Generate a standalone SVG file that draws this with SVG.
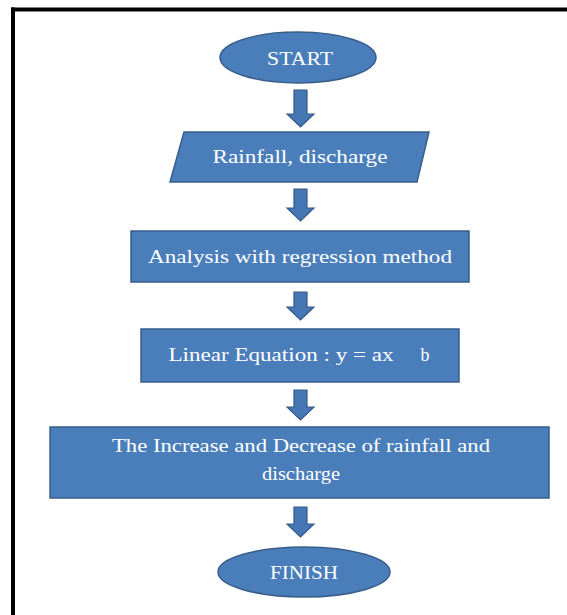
<svg xmlns="http://www.w3.org/2000/svg" width="567" height="615" viewBox="0 0 567 615">
<style>
.shape{fill:#4a7ebb;stroke:#385d8a;stroke-width:1.5}
.arrow{fill:#4677b5;stroke:#345a88;stroke-width:1.2}
.lbl{font-family:"Liberation Serif","Times New Roman",serif;font-size:18px;fill:#ffffff;text-anchor:middle}
.frame{stroke:#000000;stroke-width:4;fill:none}
</style>
<rect x="0" y="0" width="567" height="615" fill="#ffffff"/>
<g id="frame">
<line class="frame" x1="11" y1="9.5" x2="567" y2="9.5"/>
<line class="frame" x1="13" y1="7.5" x2="13" y2="615"/>
</g>
<g id="connectors">
<path class="arrow" d="M294,90 H307 V114 H314 L300.5,127 L287,114 H294 Z"/>
<path class="arrow" d="M294,189 H307 V208 H314 L300.5,221 L287,208 H294 Z"/>
<path class="arrow" d="M294,292 H307 V307 H314 L300.5,320 L287,307 H294 Z"/>
<path class="arrow" d="M294,390 H307 V407 H314 L300.5,420 L287,407 H294 Z"/>
<path class="arrow" d="M294,507 H307 V524 H314 L300.5,537 L287,524 H294 Z"/>
</g>
<g id="start">
<ellipse class="shape" cx="298" cy="57.5" rx="78" ry="25.5"/>
<text class="lbl" x="300" y="65" textLength="66" lengthAdjust="spacingAndGlyphs">START</text>
</g>
<g id="input">
<polygon class="shape" points="184,132 429,132 417,182 170,182"/>
<text class="lbl" x="300" y="163" textLength="175" lengthAdjust="spacingAndGlyphs">Rainfall, discharge</text>
</g>
<g id="analysis">
<rect class="shape" x="131" y="231" width="338" height="51"/>
<text class="lbl" x="300" y="263" textLength="304" lengthAdjust="spacingAndGlyphs">Analysis with regression method</text>
</g>
<g id="linear">
<rect class="shape" x="141" y="329" width="318" height="53"/>
<text class="lbl" x="281" y="361" textLength="225" lengthAdjust="spacingAndGlyphs">Linear Equation : y = ax</text>
<text class="lbl" x="425" y="361">b</text>
</g>
<g id="result">
<rect class="shape" x="50" y="427" width="499" height="71"/>
<text class="lbl" x="301" y="452" textLength="378" lengthAdjust="spacingAndGlyphs">The Increase and Decrease of rainfall and</text>
<text class="lbl" x="301" y="480" textLength="78" lengthAdjust="spacingAndGlyphs">discharge</text>
</g>
<g id="finish">
<ellipse class="shape" cx="304" cy="572" rx="86" ry="25"/>
<text class="lbl" x="304" y="579" textLength="68" lengthAdjust="spacingAndGlyphs">FINISH</text>
</g>
</svg>
